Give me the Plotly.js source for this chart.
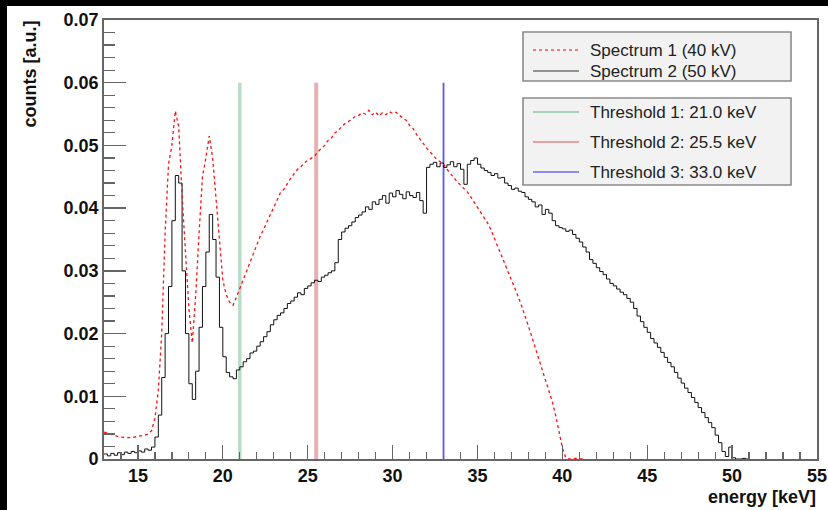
<!DOCTYPE html>
<html>
<head>
<meta charset="utf-8">
<script src="https://cdn.plot.ly/plotly-3.0.1.min.js"></script>
<style>
html,body{margin:0;padding:0;background:#000;width:828px;height:510px;overflow:hidden;}
#chart{position:absolute;left:7px;top:6px;width:821px;height:504px;background:#fff;}
</style>
</head>
<body>
<div id="chart"></div>
<script>
// Energy binning (keV)
const binStart = 13.0;
const binWidth = 0.2;

// Spectrum 1 (40 kV), counts [a.u.], bins from 13.0 keV
const spectrum1 = [
  0.0043,0.0041,0.0039,0.0037,0.0036,0.0035,0.0034,0.0034,0.0034,0.0035, // 13.0-14.8
  0.0035,0.0036,0.0038,0.0040,0.0045,0.0065,0.0110,0.0200,0.0360,0.0470, // 15.0-16.8
  0.0500,0.0555,0.0530,0.0420,0.0320,0.0240,0.0185,0.0260,0.0360,0.0450, // 17.0-18.8
  0.0480,0.0515,0.0480,0.0420,0.0350,0.0285,0.0262,0.0250,0.0245,0.0258, // 19.0-20.8
  0.0272,0.0288,0.0302,0.0316,0.0330,0.0342,0.0355,0.0366,0.0378,0.0390, // 21.0-22.8
  0.0400,0.0412,0.0425,0.0430,0.0440,0.0448,0.0455,0.0462,0.0466,0.0472, // 23.0-24.8
  0.0476,0.0480,0.0483,0.0490,0.0495,0.0500,0.0508,0.0512,0.0520,0.0524, // 25.0-26.8
  0.0530,0.0535,0.0538,0.0542,0.0546,0.0548,0.0552,0.0550,0.0556,0.0549, // 27.0-28.8
  0.0553,0.0547,0.0552,0.0549,0.0554,0.0551,0.0553,0.0548,0.0544,0.0540, // 29.0-30.8
  0.0532,0.0527,0.0518,0.0510,0.0502,0.0496,0.0490,0.0484,0.0478,0.0474, // 31.0-32.8
  0.0470,0.0462,0.0456,0.0449,0.0442,0.0437,0.0432,0.0426,0.0418,0.0410, // 33.0-34.8
  0.0402,0.0394,0.0386,0.0376,0.0365,0.0352,0.0339,0.0326,0.0313,0.0300, // 35.0-36.8
  0.0287,0.0274,0.0259,0.0244,0.0229,0.0212,0.0195,0.0178,0.0162,0.0146, // 37.0-38.8
  0.0128,0.0112,0.0092,0.0070,0.0046,0.0018,0.0002,0.0000,0.0000,0.0001, // 39.0-40.8
  0.0000,0.0000                                                          // 41.0-41.2
];

// Spectrum 2 (50 kV), counts [a.u.], bins from 13.0 keV
const spectrum2 = [
  0.0008,0.0005,0.0009,0.0006,0.0010,0.0007,0.0011,0.0009,0.0012,0.0010, // 13.0-14.8
  0.0013,0.0011,0.0016,0.0014,0.0019,0.0035,0.0070,0.0130,0.0200,0.0275, // 15.0-16.8
  0.0380,0.0452,0.0440,0.0300,0.0200,0.0120,0.0095,0.0140,0.0210,0.0275, // 17.0-18.8
  0.0330,0.0390,0.0350,0.0290,0.0210,0.0163,0.0138,0.0131,0.0128,0.0142, // 19.0-20.8
  0.0147,0.0155,0.0160,0.0169,0.0172,0.0180,0.0187,0.0195,0.0203,0.0214, // 21.0-22.8
  0.0222,0.0229,0.0233,0.0240,0.0248,0.0252,0.0258,0.0265,0.0262,0.0272, // 23.0-24.8
  0.0276,0.0281,0.0285,0.0283,0.0290,0.0293,0.0297,0.0300,0.0313,0.0350, // 25.0-26.8
  0.0362,0.0368,0.0372,0.0378,0.0385,0.0389,0.0394,0.0402,0.0398,0.0410, // 27.0-28.8
  0.0406,0.0414,0.0420,0.0408,0.0424,0.0418,0.0428,0.0422,0.0415,0.0426, // 29.0-30.8
  0.0420,0.0417,0.0425,0.0412,0.0392,0.0465,0.0470,0.0473,0.0466,0.0472, // 31.0-32.8
  0.0465,0.0469,0.0474,0.0466,0.0471,0.0462,0.0438,0.0470,0.0476,0.0480, // 33.0-34.8
  0.0470,0.0464,0.0460,0.0457,0.0452,0.0455,0.0448,0.0449,0.0440,0.0436, // 35.0-36.8
  0.0430,0.0432,0.0427,0.0425,0.0418,0.0414,0.0410,0.0402,0.0405,0.0390, // 37.0-38.8
  0.0398,0.0392,0.0380,0.0372,0.0369,0.0367,0.0363,0.0365,0.0358,0.0352, // 39.0-40.8
  0.0346,0.0338,0.0330,0.0318,0.0312,0.0305,0.0299,0.0294,0.0287,0.0280, // 41.0-42.8
  0.0276,0.0271,0.0266,0.0262,0.0256,0.0250,0.0240,0.0228,0.0219,0.0210, // 43.0-44.8
  0.0202,0.0192,0.0185,0.0178,0.0170,0.0162,0.0154,0.0147,0.0138,0.0129, // 45.0-46.8
  0.0121,0.0113,0.0106,0.0098,0.0090,0.0082,0.0074,0.0066,0.0058,0.0050, // 47.0-48.8
  0.0038,0.0026,0.0012,0.0004,0.0019,0.0002,0.0000,0.0000,0.0001,0.0000, // 49.0-50.8
  0.0000                                                                 // 51.0
];

// Thresholds (keV) and their drawn height
const thresholdNames = ["Threshold 1: 21.0 keV", "Threshold 2: 25.5 keV", "Threshold 3: 33.0 keV"];
const thresholdEnergies = [21.0, 25.5, 33.0];
const thresholdTop = 0.06;
const spectrumNames = ["Spectrum 1 (40 kV)", "Spectrum 2 (50 kV)"];

// Tick labels
const xTickVals = [15, 20, 25, 30, 35, 40, 45, 50, 55];
const yTickVals = [0, 0.01, 0.02, 0.03, 0.04, 0.05, 0.06, 0.07];
const yTickText = ["0", "0.01", "0.02", "0.03", "0.04", "0.05", "0.06", "0.07"];

// ---------- styling ----------
const thrColors = ["#b9dcc6", "#e8b0b0", "#5a5af0"];
const thrWidths = [3.5, 4, 1.8];
const thrLegendColors = ["#8cc9a2", "#e08686", "#6a6ae8"];

// plot area in page pixels: x 104..817, y 20..459; chart div offset (7, 6)
const OX = 7, OY = 6, W = 821, H = 504;
const PL = 104, PR = 817, PT = 20, PB = 459;
const PX = x => (x - PL) / (PR - PL);
const PY = y => (PB - y) / (PB - PT);

const traces = [];
thresholdEnergies.forEach((e, i) => {
  traces.push({
    type: "scatter", mode: "lines",
    x: [e, e], y: [0, thresholdTop],
    line: {color: thrColors[i], width: thrWidths[i]},
    hoverinfo: "skip", showlegend: false
  });
});
traces.push({
  type: "scatter", mode: "lines", name: spectrumNames[1],
  x0: binStart, dx: binWidth, y: spectrum2,
  line: {color: "#111", width: 1, shape: "hv"}, showlegend: false
});
traces.push({
  type: "scatter", mode: "lines", name: spectrumNames[0],
  x0: binStart, dx: binWidth, y: spectrum1,
  line: {color: "#ff1010", width: 1.3, dash: "dot"}, showlegend: false
});

const shapes = [];
const annotations = [];
const legFont = {family: "Liberation Sans, Arial, sans-serif", size: 17, color: "#222"};

// legend boxes
[[32, 81], [98, 185]].forEach(b => {
  shapes.push({type: "rect", xref: "paper", yref: "paper",
    x0: PX(523), x1: PX(791), y0: PY(b[1]), y1: PY(b[0]),
    fillcolor: "#f2f2f2", line: {color: "#8a8a8a", width: 1.6}, layer: "above"});
});
// legend entries
const legRows = [
  {y: 50, text: spectrumNames[0], color: "#ff5050", dash: "dot", w: 1.3},
  {y: 71, text: spectrumNames[1], color: "#333", dash: "solid", w: 1},
  {y: 112, text: thresholdNames[0], color: thrLegendColors[0], dash: "solid", w: 1.6},
  {y: 142, text: thresholdNames[1], color: thrLegendColors[1], dash: "solid", w: 1.6},
  {y: 172, text: thresholdNames[2], color: thrLegendColors[2], dash: "solid", w: 1.6}
];
legRows.forEach(r => {
  shapes.push({type: "line", xref: "paper", yref: "paper",
    x0: PX(533), x1: PX(579), y0: PY(r.y), y1: PY(r.y),
    line: {color: r.color, width: r.w, dash: r.dash}, layer: "above"});
  annotations.push({xref: "paper", yref: "paper", x: PX(588), y: PY(r.y),
    xanchor: "left", yanchor: "middle", showarrow: false, text: r.text, font: legFont});
});

// axis titles (ROOT style, aligned to the axis ends)
const titleFont = {family: "Liberation Sans, Arial, sans-serif", size: 18, color: "#111"};
annotations.push({xref: "paper", yref: "paper", x: PX(30), y: PY(19),
  xanchor: "center", yanchor: "top", textangle: -90, showarrow: false,
  text: "<b>counts [a.u.]</b>", font: titleFont});
annotations.push({xref: "paper", yref: "paper", x: PX(818), y: PY(497),
  xanchor: "right", yanchor: "middle", showarrow: false,
  text: "<b>energy [keV]</b>", font: titleFont});

const tickFont = {family: "Liberation Sans, Arial, sans-serif", size: 18, color: "#111", weight: "bold"};
const axisColor = "#666";

const layout = {
  width: W, height: H,
  margin: {l: PL - OX, r: W - (PR - OX), t: PT - OY, b: H - (PB - OY)},
  paper_bgcolor: "#fff", plot_bgcolor: "#fff",
  showlegend: false,
  xaxis: {
    range: [13, 55], tickmode: "array", tickvals: xTickVals, ticktext: xTickVals.map(String),
    ticks: "inside", ticklen: 14, tickwidth: 1.3, tickcolor: axisColor,
    minor: {dtick: 1, tick0: 0, ticks: "inside", ticklen: 7, tickwidth: 1.2, tickcolor: axisColor, showgrid: false},
    showline: true, linecolor: axisColor, linewidth: 1.8, mirror: true,
    showgrid: false, zeroline: false, tickfont: tickFont
  },
  yaxis: {
    range: [0, 0.07], tickmode: "array", tickvals: yTickVals, ticktext: yTickText,
    ticks: "inside", ticklen: 22, tickwidth: 1.3, tickcolor: axisColor,
    minor: {dtick: 0.002, tick0: 0, ticks: "inside", ticklen: 11, tickwidth: 1.2, tickcolor: axisColor, showgrid: false},
    showline: true, linecolor: axisColor, linewidth: 1.8, mirror: true,
    showgrid: false, zeroline: false, tickfont: tickFont
  },
  shapes: shapes,
  annotations: annotations
};

Plotly.newPlot("chart", traces, layout, {staticPlot: true, displayModeBar: false});
</script>
</body>
</html>
